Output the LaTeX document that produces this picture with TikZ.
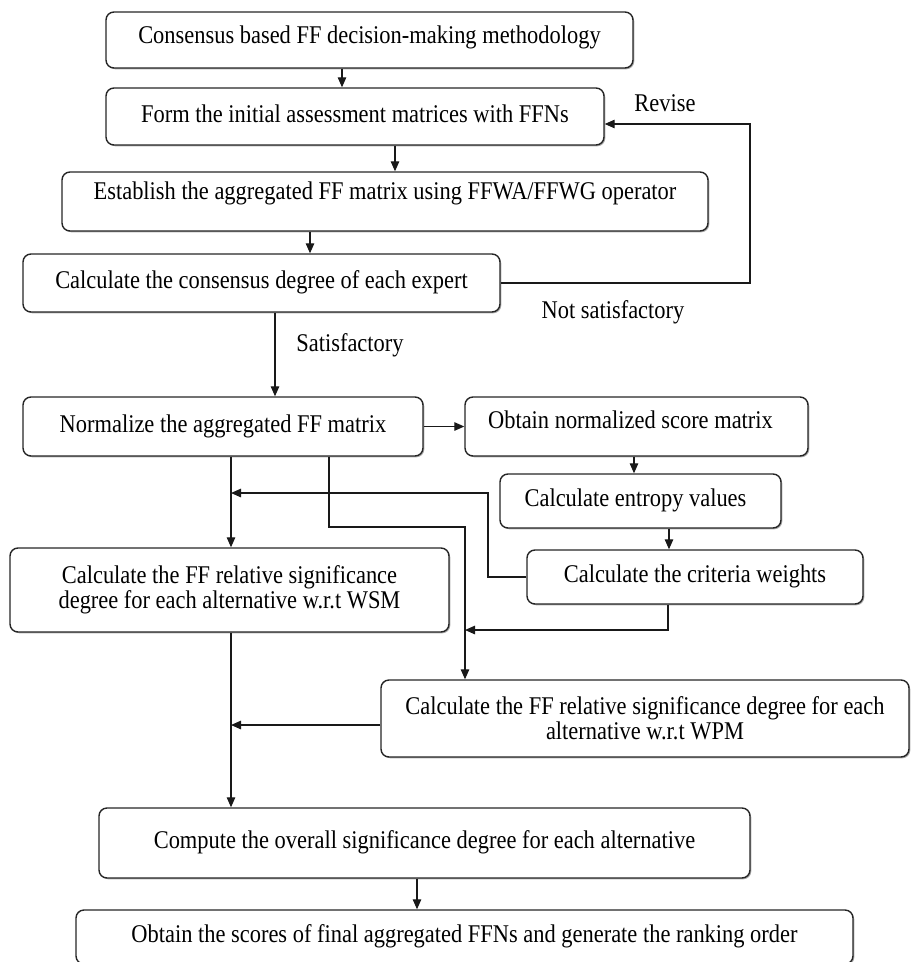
\documentclass[tikz,border=0pt]{standalone}
\usepackage{fontspec}
\setmainfont{Liberation Serif}[FakeStretch=0.88]
\usetikzlibrary{arrows.meta,shadows}
\begin{document}
\begin{tikzpicture}[x=1pt,y=-1pt,
  box/.style={draw=black!85, line width=1.4pt, rounded corners=8pt, fill=white,
    inner sep=0pt, align=center, font=\fontsize{25.5}{25}\selectfont,
    drop shadow={shadow xshift=1.3pt, shadow yshift=-1.3pt, fill=black!40, opacity=0.8}},
  one/.style={text height=18pt, text depth=7pt},
  conn/.style={draw=black!90, line width=1.2pt, -{Triangle[length=10pt,width=8.5pt]}},
  lbl/.style={font=\fontsize{25.5}{25}\selectfont, inner sep=0pt}
]
\useasboundingbox (0,0) rectangle (911,962);

\node[box,text height=18pt,text depth=11pt,minimum width=527pt,minimum height=56pt] (b1) at (369.5,40) {Consensus based FF decision-making methodology};
\node[box,one,minimum width=498pt,minimum height=57pt] (b2) at (355,116.5) {Form the initial assessment matrices with FFNs};
\node[box,text height=18pt,text depth=23pt,minimum width=646pt,minimum height=59pt] (b3) at (385,201.5) {Establish the aggregated FF matrix using FFWA/FFWG operator};
\node[box,one,minimum width=477pt,minimum height=58pt] (b4) at (261.5,283) {Calculate the consensus degree of each expert};
\node[box,one,minimum width=400pt,minimum height=59pt] (b5) at (223,426.5) {Normalize the aggregated FF matrix};
\node[box,text height=18pt,text depth=15pt,minimum width=343pt,minimum height=59pt] (b6) at (636.5,426.5) {Obtain normalized score matrix\hspace*{12pt}};
\node[box,one,minimum width=281pt,minimum height=54pt] (b7) at (640.5,501) {Calculate entropy values\hspace*{10pt}};
\node[box,one,minimum width=336pt,minimum height=54pt] (b8) at (695,577) {Calculate the criteria weights};
\node[box,minimum width=439pt,minimum height=84pt] (b9) at (229.5,590) {Calculate the FF relative significance\\degree for each alternative w.r.t WSM};
\node[box,minimum width=528pt,minimum height=77pt] (b10) at (645,718.5) {Calculate the FF relative significance degree for each\\alternative w.r.t WPM};
\node[box,one,minimum width=651pt,minimum height=70pt] (b11) at (424.5,843) {Compute the overall significance degree for each alternative};
\node[box,one,minimum width=777pt,minimum height=54pt] (b12) at (464.5,937) {Obtain the scores of final aggregated FFNs and generate the ranking order};

\node[lbl] (revise) at (665,103) {Revise};
\node[lbl] (notsat) at (613,312) {Not satisfactory};
\node[lbl] (sat) at (350,345) {Satisfactory};

\coordinate (j1) at (231,493);
\coordinate (j2) at (465,630);
\coordinate (j3) at (231,725);

\draw[conn] (342,0 |- b1.south) -- (342,0 |- b2.north);
\draw[conn] (395,0 |- b2.south) -- (395,0 |- b3.north);
\draw[conn] (310,0 |- b3.south) -- (310,0 |- b4.north);
\draw[conn] (275,0 |- b4.south) -- (275,0 |- b5.north);
\draw[conn] (b4.east) -- (750,0 |- b4.east) -- (750,124) -- (b2.east |- 0,124);
\draw[conn] (b5.east) -- (b6.west);
\draw[conn] (634,0 |- b6.south) -- (634,0 |- b7.north);
\draw[conn] (669,0 |- b7.south) -- (669,0 |- b8.north);
\draw[conn] (231,0 |- b5.south) -- (231,0 |- b9.north);
\draw[conn] (329,0 |- b5.south) -- (329,527) -- (465,527) -- (465,0 |- b10.north);
\draw[conn] (b8.west) -- (488,0 |- b8.west) -- (488,493) -- (j1);
\draw[conn] (668,0 |- b8.south) -- (668,630) -- (j2);
\draw[conn] (231,0 |- b9.south) -- (231,0 |- b11.north);
\draw[conn] (b10.west |- j3) -- (j3);
\draw[conn] (417,0 |- b11.south) -- (417,0 |- b12.north);
\end{tikzpicture}
\end{document}
